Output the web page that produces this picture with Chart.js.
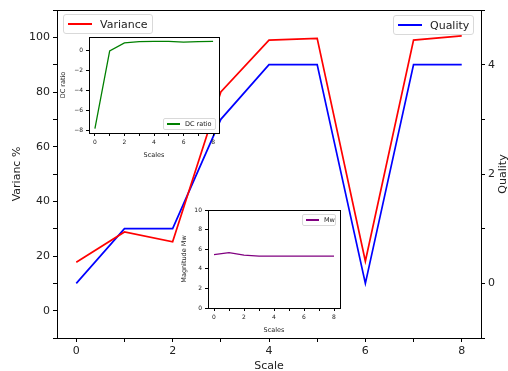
<!DOCTYPE html>
<html>
<head>
<meta charset="utf-8">
<script src="https://cdn.jsdelivr.net/npm/chart.js@4.4.0/dist/chart.umd.min.js"></script>
<style>
  body { margin: 0; background: #fff; }
  #wrap { position: relative; width: 508px; height: 371px; font-family: "DejaVu Sans", sans-serif; }
  canvas { position: absolute; }
  .legend {
    position: absolute; box-sizing: border-box; display: flex; align-items: center;
    background: rgba(255,255,255,0.8); border: 1px solid #d9d9d9; border-radius: 3px; color: #222;
    white-space: nowrap;
  }
  .legend .sw { display: inline-block; height: 1.5px; }
</style>
</head>
<body>
<div id="wrap">
  <canvas id="main" width="508" height="371" style="left:0;top:0"></canvas>
  <canvas id="dc" width="167" height="132" style="left:58px;top:30px"></canvas>
  <canvas id="mw" width="172" height="134" style="left:176px;top:202px"></canvas>

  <div class="legend" style="left:63px;top:14px;width:90px;height:20px;font-size:11px;padding-left:4px">
    <span class="sw" style="width:24px;background:#ff0000"></span><span style="margin-left:8px">Variance</span>
  </div>
  <div class="legend" style="left:393px;top:15px;width:81px;height:20px;font-size:11px;padding-left:4px">
    <span class="sw" style="width:24px;background:#0000ff"></span><span style="margin-left:8px">Quality</span>
  </div>
  <div class="legend" style="left:163px;top:118px;width:53px;height:12px;font-size:6.5px;padding-left:3px;border-radius:2px">
    <span class="sw" style="width:13px;height:1.2px;background:#008000"></span><span style="margin-left:5px">DC ratio</span>
  </div>
  <div class="legend" style="left:302px;top:214px;width:34px;height:12px;font-size:6.5px;padding-left:3px;border-radius:2px">
    <span class="sw" style="width:13px;height:1.2px;background:#800080"></span><span style="margin-left:5px">Mw</span>
  </div>
</div>

<script>
// values
const scaleSteps = [0, 1, 2, 3, 4, 5, 6, 7, 8];
const varianceValues = [17.7, 28.8, 25.2, 80, 99, 99.6, 18.1, 99, 100.5];
const qualityValues = [0, 1, 1, 3, 4, 4, 0, 4, 4];
const dcRatioValues = [-7.8, -0.05, 0.75, 0.88, 0.9, 0.9, 0.83, 0.88, 0.9];
const mwValues = [5.45, 5.65, 5.4, 5.3, 5.3, 5.3, 5.3, 5.3, 5.3];

Chart.defaults.font.family = '"DejaVu Sans", sans-serif';
Chart.defaults.color = '#222';

function points(ys) {
  return scaleSteps.map((x, i) => ({ x: x, y: ys[i] }));
}
function minus(v) {
  return String(v).replace('-', '\u2212');
}

// box around the plot area, like matplotlib spines
const frame = {
  id: 'frame',
  beforeDraw(chart, args, opts) {
    if (!opts.fill) return;
    const a = chart.chartArea;
    chart.ctx.save();
    chart.ctx.fillStyle = '#fff';
    chart.ctx.fillRect(a.left, a.top, a.right - a.left, a.bottom - a.top);
    chart.ctx.restore();
  },
  afterDatasetsDraw(chart) {
    const a = chart.chartArea, ctx = chart.ctx;
    ctx.save();
    ctx.strokeStyle = '#000';
    ctx.lineWidth = 1;
    ctx.strokeRect(Math.round(a.left) + 0.5, Math.round(a.top) + 0.5,
      Math.round(a.right - a.left), Math.round(a.bottom - a.top));
    ctx.restore();
  }
};

const rightTitle = {
  id: 'rightTitle',
  afterDraw(chart) {
    const ctx = chart.ctx, a = chart.chartArea;
    ctx.save();
    ctx.translate(506, (a.top + a.bottom) / 2);
    ctx.rotate(-Math.PI / 2);
    ctx.font = '11px "DejaVu Sans"';
    ctx.fillStyle = '#222';
    ctx.textAlign = 'center';
    ctx.textBaseline = 'alphabetic';
    ctx.fillText('Quality', 0, 0);
    ctx.restore();
  }
};

function tickGrid(len) {
  return { drawOnChartArea: false, drawTicks: true, tickLength: len, color: '#000', lineWidth: 1 };
}

// Main chart
new Chart(document.getElementById('main'), {
  type: 'line',
  data: {
    datasets: [
      { label: 'Variance', data: points(varianceValues), borderColor: 'red', borderWidth: 1.7, pointRadius: 0, yAxisID: 'y' },
      { label: 'Quality', data: points(qualityValues), borderColor: 'blue', borderWidth: 1.7, pointRadius: 0, yAxisID: 'y1' }
    ]
  },
  options: {
    responsive: false,
    animation: false,
    devicePixelRatio: 1,
    layout: { padding: { top: 10, left: 0, right: 0, bottom: 0 } },
    plugins: { legend: { display: false }, tooltip: { enabled: false }, frame: { fill: false } },
    scales: {
      x: {
        type: 'linear', min: -0.4, max: 8.4,
        border: { display: false },
        grid: tickGrid(4),
        ticks: { stepSize: 1, includeBounds: false, padding: 3, font: { size: 11 },
          callback: v => (v % 2 === 0 ? v : '') },
        title: { display: true, text: 'Scale', font: { size: 11, lineHeight: 1 }, padding: { top: 0, bottom: -1 } },
        afterFit: s => { s.height = 33; }
      },
      y: {
        position: 'left', min: -10, max: 110,
        border: { display: false },
        grid: tickGrid(4),
        ticks: { stepSize: 10, padding: 3, font: { size: 11 },
          callback: v => (v % 20 === 0 ? minus(v) : '') },
        title: { display: true, text: 'Varianc %', font: { size: 11, lineHeight: 1 }, padding: { top: 12, bottom: 0 } },
        afterFit: s => { s.width = 57; }
      },
      y1: {
        position: 'right', min: -1, max: 5,
        border: { display: false },
        grid: tickGrid(4),
        ticks: { stepSize: 1, padding: 3, font: { size: 11 },
          callback: v => (v % 2 === 0 ? minus(v) : '') },
        afterFit: s => { s.width = 27; }
      }
    }
  },
  plugins: [frame, rightTitle]
});

// Inset: DC ratio
new Chart(document.getElementById('dc'), {
  type: 'line',
  data: {
    datasets: [
      { label: 'DC ratio', data: points(dcRatioValues), borderColor: 'green', borderWidth: 1.3, pointRadius: 0 }
    ]
  },
  options: {
    responsive: false,
    animation: false,
    devicePixelRatio: 1,
    layout: { padding: { top: 7, left: 0, right: 6, bottom: 0 } },
    plugins: { legend: { display: false }, tooltip: { enabled: false }, frame: { fill: true } },
    scales: {
      x: {
        type: 'linear', min: -0.4, max: 8.4,
        border: { display: false },
        grid: tickGrid(3),
        ticks: { stepSize: 1, includeBounds: false, padding: 3, font: { size: 6 },
          callback: v => (v % 2 === 0 ? v : '') },
        title: { display: true, text: 'Scales', font: { size: 6.5, lineHeight: 1 }, padding: { top: 0, bottom: 3.5 } },
        afterFit: s => { s.height = 29; }
      },
      y: {
        min: -8.235, max: 1.335,
        border: { display: false },
        grid: tickGrid(3),
        ticks: { stepSize: 2, includeBounds: false, padding: 3, font: { size: 6 },
          callback: v => minus(v) },
        title: { display: true, text: 'DC ratio', font: { size: 6.5, lineHeight: 1 }, padding: { top: 2, bottom: 0 } },
        afterFit: s => { s.width = 31; }
      }
    }
  },
  plugins: [frame]
});

// Inset: Magnitude Mw
new Chart(document.getElementById('mw'), {
  type: 'line',
  data: {
    datasets: [
      { label: 'Mw', data: points(mwValues), borderColor: 'purple', borderWidth: 1.3, pointRadius: 0 }
    ]
  },
  options: {
    responsive: false,
    animation: false,
    devicePixelRatio: 1,
    layout: { padding: { top: 8, left: 0, right: 8, bottom: 0 } },
    plugins: { legend: { display: false }, tooltip: { enabled: false }, frame: { fill: true } },
    scales: {
      x: {
        type: 'linear', min: -0.4, max: 8.4,
        border: { display: false },
        grid: tickGrid(3),
        ticks: { stepSize: 1, includeBounds: false, padding: 3, font: { size: 6 },
          callback: v => (v % 2 === 0 ? v : '') },
        title: { display: true, text: 'Scales', font: { size: 6.5, lineHeight: 1 }, padding: { top: 0, bottom: 2.75 } },
        afterFit: s => { s.height = 28; }
      },
      y: {
        min: 0, max: 10,
        border: { display: false },
        grid: tickGrid(3),
        ticks: { stepSize: 1, padding: 3, font: { size: 6 } },
        title: { display: true, text: 'Magnitude Mw', font: { size: 6.5, lineHeight: 1 }, padding: { top: 4.75, bottom: 0 } },
        afterFit: s => { s.width = 32; }
      }
    }
  },
  plugins: [frame]
});
</script>
</body>
</html>
